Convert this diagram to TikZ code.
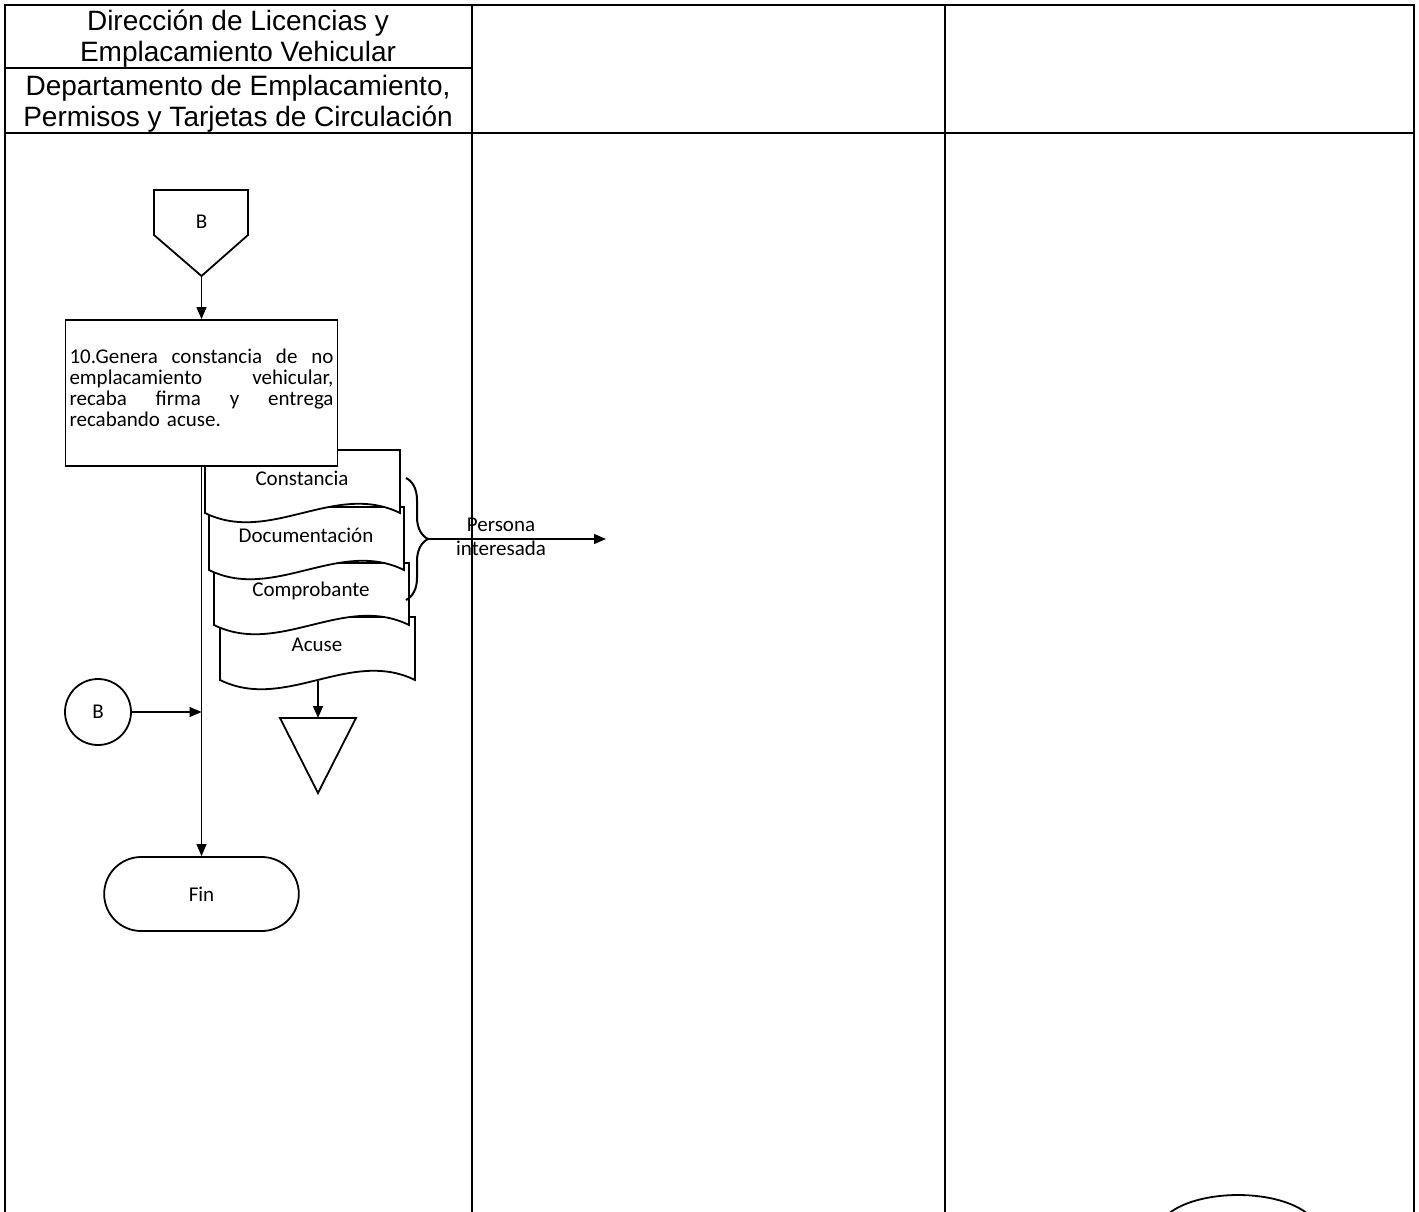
\documentclass[tikz,border=0pt]{standalone}
\usepackage{fontspec}
\setmainfont{Liberation Sans}
\newfontfamily\calibri{Carlito}
\usetikzlibrary{arrows.meta,shapes.misc,shapes.geometric,decorations.pathreplacing,positioning}

% documento: nombre, x izquierda, y arriba, y abajo, texto
\newcommand{\documento}[5]{%
  \draw[figura] (#2,#4) -- (#2,#3) -- ({#2+195},#3) -- ({#2+195},#4)
    .. controls ({#2+130},{#4-32}) and ({#2+65},{#4+32}) .. cycle;
  \node (#1) [texto] at ({#2+97},{#3+28}) {#5};
}

\begin{document}
\begin{tikzpicture}[x=0.5pt,y=-0.5pt,
  tabla/.style={line width=1.1pt},
  figura/.style={draw,line width=0.9pt,fill=white},
  flecha/.style={line width=0.6pt,-{Triangle[length=6pt,width=5pt]}},
  texto/.style={font=\calibri\fontsize{10.5}{10.5}\selectfont},
  encabezado/.style={align=center,font=\fontsize{14}{15.5}\selectfont}]
\clip (0,0) rectangle (1419,1211);

% Tabla y encabezados
\draw[tabla] (5,1215) -- (5,5) -- (1414,5) -- (1414,1215);
\draw[tabla] (472,5) -- (472,1215);
\draw[tabla] (945,5) -- (945,1215);
\draw[tabla] (5,68) -- (472,68);
\draw[tabla] (5,133) -- (1414,133);
\node (direccion) [encabezado] at (238,39) {Dirección de Licencias y\\Emplacamiento Vehicular};
\node (depto) [encabezado] at (238,104) {Departamento de Emplacamiento,\\Permisos y Tarjetas de Circulación};

% Conector B
\draw[figura] (154,190) -- (248,190) -- (248,235) -- (201.5,276) -- (154,235) -- cycle;
\node (conB) [texto] at (201.5,222) {B};
\coordinate (conBpunta) at (201.5,276);

% Documentos
\documento{acuse}{220}{617}{680}{Acuse}
\documento{comprobante}{214}{563}{625}{Comprobante}
\documento{documentacion}{209}{507}{570}{Documentación}
\documento{constancia}{205}{450}{513}{Constancia}

% Actividad 10
\node (act10) [figura,texto,text width=132pt,minimum height=73pt,inner sep=2pt,align=left] at (201.5,393)
  {10.Genera\hfill constancia\hfill de\hfill no\\
   emplacamiento\hfill vehicular,\\
   recaba\hfill firma\hfill y\hfill entrega\\
   recabando acuse.\\[-5.5pt]\rule{0pt}{0pt}};

\node (circB) [figura,texto,circle,minimum size=33pt] at (98,712) {B};
\node (fin) [figura,texto,rounded rectangle,minimum width=104pt,minimum height=37pt] at (201.5,894) {Fin};
\draw[figura] (280,718) -- (356,718) -- (318,793) -- cycle;
\coordinate (archivo) at (318,718);
\coordinate (acuseBase) at (318,681);
\node (finParcial) [figura,ellipse,minimum width=80pt,minimum height=37pt] at (1238,1232) {};

% Llave y destino
\draw[line width=1pt,decorate,decoration={brace,amplitude=11pt}] (406,478) -- (406,600);
\coordinate (llave) at (428,539);
\coordinate (persona) at (606,539);
\node (destino) [texto,font=\calibri\fontsize{10.5}{12}\selectfont,align=center] at (501,537) {Persona\\interesada};

% Conexiones
\coordinate (union) at (act10.south |- circB.east);
\draw[flecha] (conBpunta) -- (act10.north);
\draw[flecha] (act10.south) -- (fin.north);
\draw[flecha] (circB) -- (union);
\draw[flecha] (acuseBase) -- (archivo);
\draw[flecha] (llave) -- (persona);

\end{tikzpicture}
\end{document}
